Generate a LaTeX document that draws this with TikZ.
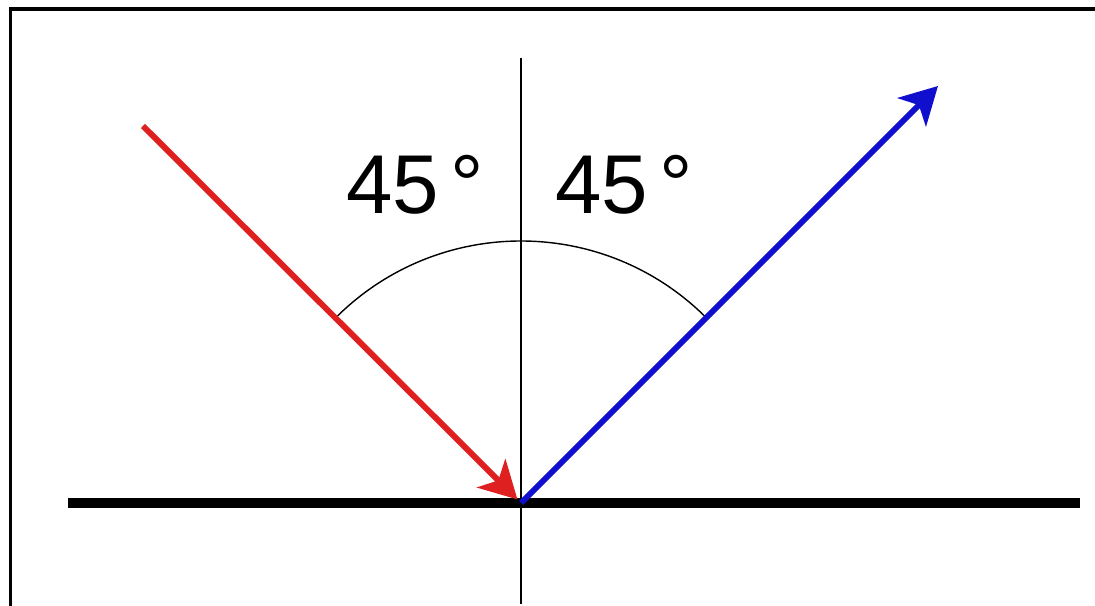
\documentclass[tikz,border=0pt]{standalone}
\usepackage{fontspec}
\setmainfont{Liberation Sans}
\usetikzlibrary{arrows.meta,calc}
\definecolor{rayred}{RGB}{222,32,32}
\definecolor{rayblue}{RGB}{15,15,205}

\begin{document}
\begin{tikzpicture}[>={Stealth[length=0.74cm,width=0.8cm,inset=0.2cm]}]
\useasboundingbox (0,0) rectangle (21.9,12.12);
% frame on top and left only
\draw[line width=1.8pt] (0.21,0) -- (0.21,11.94) -- (21.9,11.94);
\coordinate (O) at (10.42,2.06);
\coordinate (inc) at (2.86,9.6);
\coordinate (refl) at (18.76,10.4);
\coordinate (surfL) at (1.36,2.06);
\coordinate (surfR) at (21.6,2.06);
\coordinate (normT) at (10.42,10.96);
\coordinate (normB) at (10.42,0.04);
\draw[line width=5.7pt] (surfL) -- (surfR);
\draw[line width=1.1pt] (normB) -- (normT);
\draw[line width=0.8pt] ($(O)+(135:5.24)$) arc[start angle=135,end angle=45,radius=5.24];
\draw[->,line width=3.4pt,rayred,shorten >=0.1cm] (inc) -- (O);
\draw[->,line width=3.4pt,rayblue] (O) -- (refl);
\node[font=\fontsize{47.5}{50}\selectfont] (angL) at (8.3,8.42) {45\hspace{0.14em}°};
\node[font=\fontsize{47.5}{50}\selectfont] (angR) at (12.48,8.42) {45\hspace{0.14em}°};
\end{tikzpicture}
\end{document}
